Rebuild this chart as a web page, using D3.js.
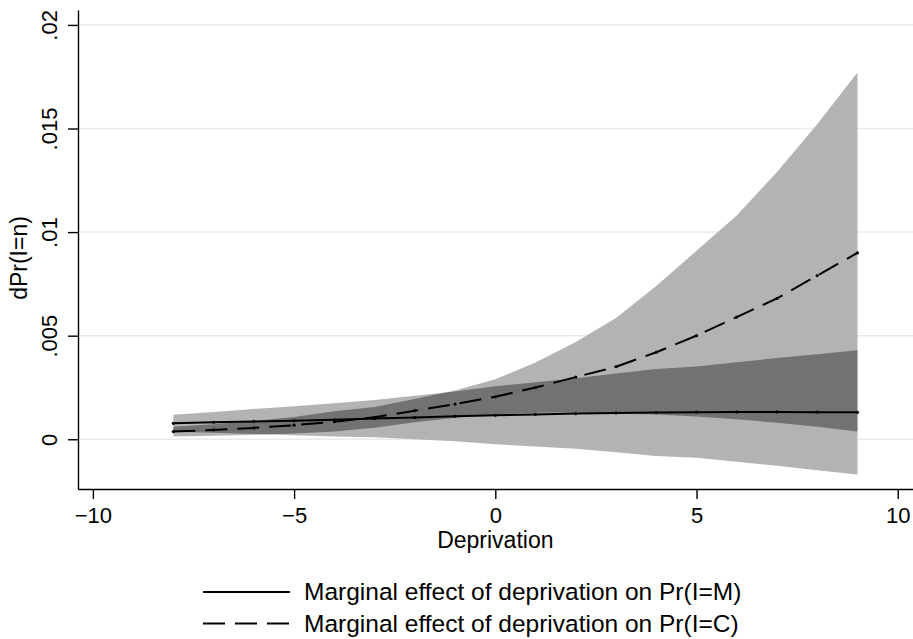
<!DOCTYPE html>
<html>
<head>
<meta charset="utf-8">
<script src="https://cdn.jsdelivr.net/npm/d3@7"></script>
<style>
body { margin: 0; background: #fff; }
svg text { font-family: "Liberation Sans", Arial, Helvetica, sans-serif; fill: #000; }
</style>
</head>
<body>
<svg id="chart" width="913" height="639"></svg>
<script>
// deprivation values (x) at which the margins were evaluated
var deprivation = [-8, -7, -6, -5, -4, -3, -2, -1, 0, 1, 2, 3, 4, 5, 6, 7, 8, 9];

// marginal effect on Pr(I=M) with confidence interval
var effectM = [0.00077, 0.00082, 0.00086, 0.00090, 0.00094, 0.00100, 0.00105, 0.00111, 0.00116,
               0.00120, 0.00124, 0.00127, 0.00129, 0.00131, 0.00132, 0.00132, 0.00131, 0.00130];
var upperM = [0.00118, 0.00132, 0.00146, 0.00160, 0.00174, 0.00190, 0.00210, 0.00231, 0.00256,
              0.00275, 0.00294, 0.00317, 0.00339, 0.00351, 0.00372, 0.00392, 0.00411, 0.00430];
var lowerM = [0.00036, 0.00032, 0.00026, 0.00020, 0.00014, 0.00010, 0.00000, -0.00009, -0.00024,
              -0.00035, -0.00046, -0.00063, -0.00081, -0.00089, -0.00108, -0.00128, -0.00149, -0.00170];

// marginal effect on Pr(I=C) with confidence interval
var effectC = [0.00037, 0.00045, 0.00055, 0.00068, 0.00085, 0.00106, 0.00138, 0.00170, 0.00205,
               0.00250, 0.00300, 0.00350, 0.00420, 0.00500, 0.00590, 0.00680, 0.00790, 0.00900];
var upperC = [0.00061, 0.00073, 0.00088, 0.00108, 0.00135, 0.00156, 0.00194, 0.00236, 0.00290,
              0.00370, 0.00470, 0.00585, 0.00740, 0.00910, 0.01080, 0.01290, 0.01520, 0.01770];
var lowerC = [0.00013, 0.00017, 0.00022, 0.00028, 0.00037, 0.00056, 0.00082, 0.00104, 0.00120,
              0.00128, 0.00130, 0.00125, 0.00120, 0.00110, 0.00097, 0.00080, 0.00060, 0.00037];

var xTicks = [-10, -5, 0, 5, 10];
var yTicks = [0, 0.005, 0.01, 0.015, 0.02];
var yTickLabels = ["0", ".005", ".01", ".015", ".02"];

var legendLabels = ["Marginal effect of deprivation on Pr(I=M)",
                    "Marginal effect of deprivation on Pr(I=C)"];

var svg = d3.select("#chart"),
    plotLeft = 78,
    plotRight = 913,
    plotTop = 10,
    plotBottom = 489;

var x = d3.scaleLinear().domain([-10.37, 10.38]).range([plotLeft, plotRight]),
    y = d3.scaleLinear().domain([-0.0024, 0.02072]).range([plotBottom, plotTop]);

// rows for the areas and lines
var rows = deprivation.map(function (d, i) {
    return {
        x: d,
        m: effectM[i], mLo: lowerM[i], mHi: upperM[i],
        c: effectC[i], cLo: lowerC[i], cHi: upperC[i]
    };
});

// gridlines
svg.append("g")
    .selectAll("line")
    .data(yTicks)
    .enter().append("line")
    .attr("x1", plotLeft)
    .attr("x2", plotRight)
    .attr("y1", function (d) { return y(d); })
    .attr("y2", function (d) { return y(d); })
    .attr("stroke", "#eaeaea")
    .attr("stroke-width", 1.5);

var areaM = d3.area()
    .x(function (d) { return x(d.x); })
    .y0(function (d) { return y(d.mLo); })
    .y1(function (d) { return y(d.mHi); });

var areaC = d3.area()
    .x(function (d) { return x(d.x); })
    .y0(function (d) { return y(d.cLo); })
    .y1(function (d) { return y(d.cHi); });

svg.append("clipPath")
    .attr("id", "clipC")
    .append("path")
    .attr("d", areaC(rows));

svg.append("path")
    .attr("d", areaM(rows))
    .attr("fill", "#b3b3b3");

svg.append("path")
    .attr("d", areaC(rows))
    .attr("fill", "#b3b3b3");

// where the two intervals overlap it gets darker
svg.append("path")
    .attr("d", areaM(rows))
    .attr("fill", "#727272")
    .attr("clip-path", "url(#clipC)");

var lineM = d3.line()
    .x(function (d) { return x(d.x); })
    .y(function (d) { return y(d.m); });

var lineC = d3.line()
    .x(function (d) { return x(d.x); })
    .y(function (d) { return y(d.c); });

svg.append("path")
    .attr("d", lineM(rows))
    .attr("fill", "none")
    .attr("stroke", "#000")
    .attr("stroke-width", 2);

svg.append("path")
    .attr("d", lineC(rows))
    .attr("fill", "none")
    .attr("stroke", "#000")
    .attr("stroke-width", 2)
    .attr("stroke-dasharray", "22,10");

// small markers at every evaluated point
["m", "c"].forEach(function (key) {
    svg.append("g")
        .selectAll("circle")
        .data(rows)
        .enter().append("circle")
        .attr("cx", function (d) { return x(d.x); })
        .attr("cy", function (d) { return y(d[key]); })
        .attr("r", 1.6)
        .attr("fill", "#000");
});

// axes
var xAxis = svg.append("g")
    .attr("transform", "translate(0," + plotBottom + ")")
    .call(d3.axisBottom(x).tickValues(xTicks).tickSize(10).tickSizeOuter(0));

xAxis.selectAll("text")
    .attr("y", 34)
    .attr("dy", 0)
    .style("font-size", "22px");

var yAxis = svg.append("g")
    .attr("transform", "translate(" + plotLeft + ",0)")
    .call(d3.axisLeft(y).tickValues(yTicks).tickSize(10).tickSizeOuter(0)
        .tickFormat(function (d, i) { return yTickLabels[i]; }));

yAxis.selectAll("text")
    .attr("transform", "rotate(-90)")
    .attr("x", 0)
    .attr("y", -21)
    .attr("dy", 0)
    .attr("text-anchor", "middle")
    .style("font-size", "22px");

svg.selectAll(".domain, .tick line")
    .attr("stroke", "#000")
    .attr("stroke-width", 1.4);

svg.append("text")
    .attr("x", x(0))
    .attr("y", 548)
    .attr("text-anchor", "middle")
    .style("font-size", "23px")
    .text("Deprivation");

svg.append("text")
    .attr("transform", "translate(27," + 258 + ") rotate(-90)")
    .attr("text-anchor", "middle")
    .style("font-size", "23px")
    .text("dPr(I=n)");

// legend
var legend = svg.append("g")
    .selectAll("g")
    .data(legendLabels)
    .enter().append("g")
    .attr("transform", function (d, i) { return "translate(0," + (592 + i * 31.5) + ")"; });

legend.append("line")
    .attr("x1", 203)
    .attr("x2", 290)
    .attr("stroke", "#000")
    .attr("stroke-width", 2)
    .attr("stroke-dasharray", function (d, i) { return i === 1 ? "22,10" : null; });

legend.append("text")
    .attr("x", 304)
    .attr("y", 8)
    .style("font-size", "24.5px")
    .text(function (d) { return d; });
</script>
</body>
</html>
